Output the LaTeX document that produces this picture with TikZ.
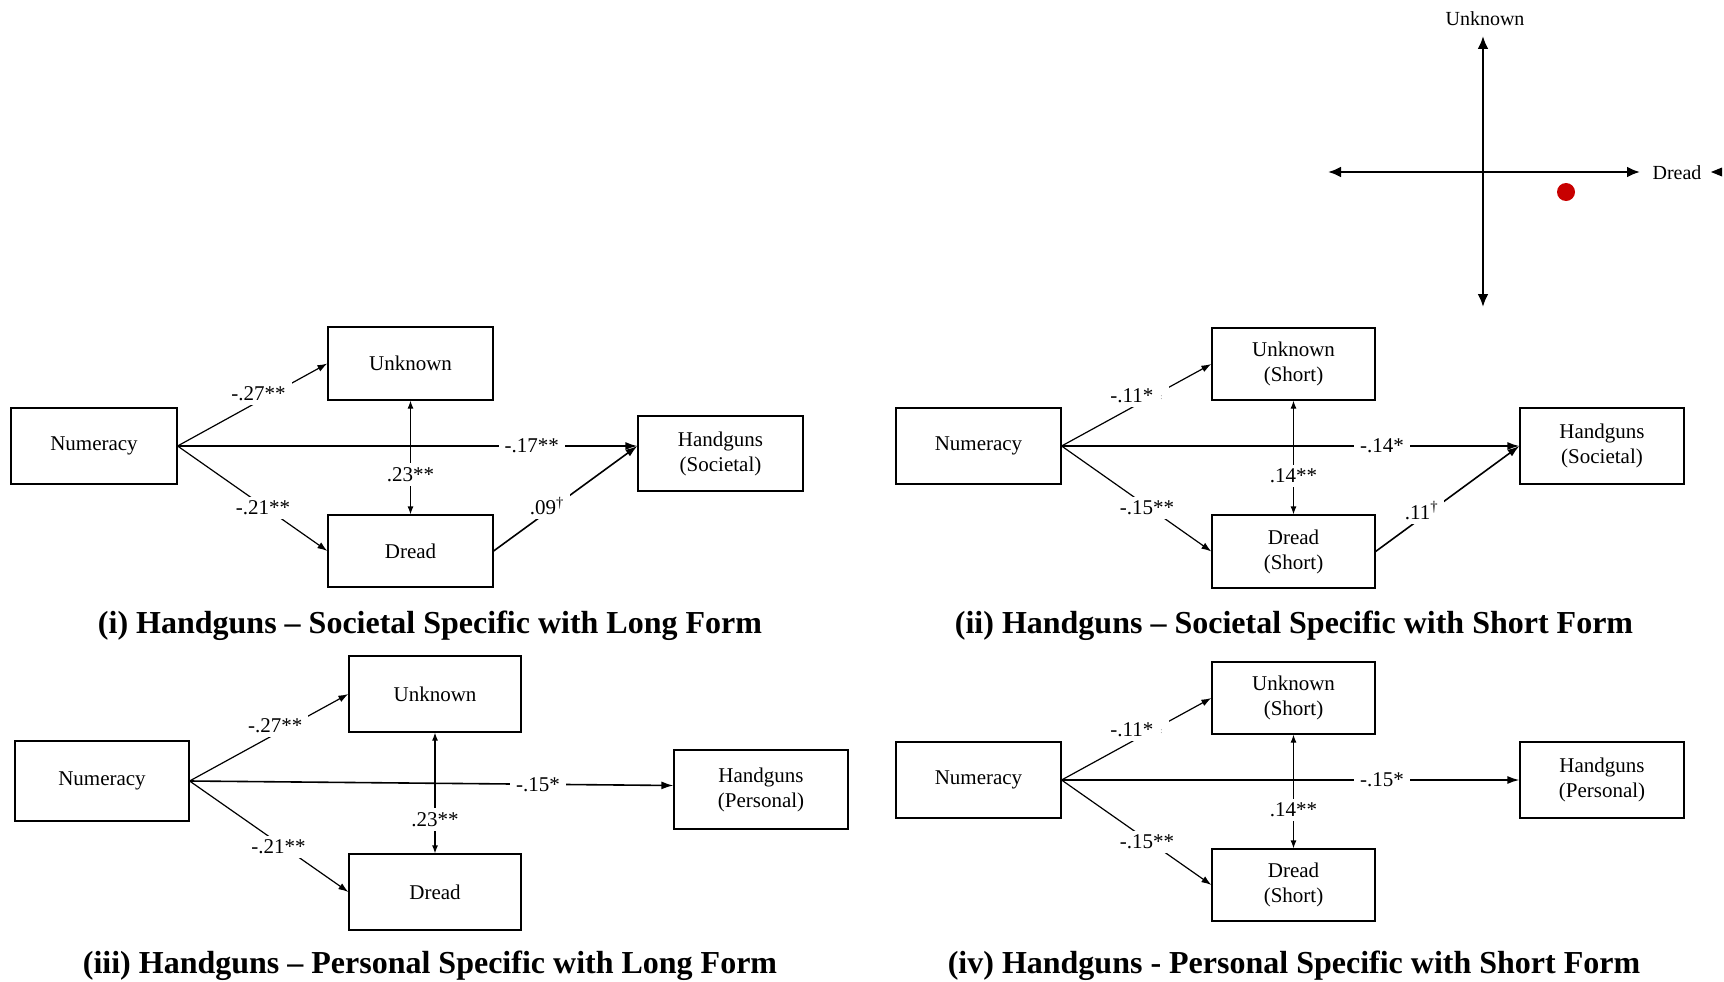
\documentclass[tikz,border=0pt]{standalone}
\usepackage{fontspec}
\setmainfont{Liberation Serif}
\usetikzlibrary{arrows.meta}
\definecolor{dotred}{RGB}{200,0,0}
\begin{document}
\begin{tikzpicture}[x=1pt,y=-1pt,
  box/.style={draw, line width=1.2pt, align=center, inner sep=0pt, font=\fontsize{21}{25}\selectfont},
  lab/.style={fill=white, inner xsep=6pt, inner ysep=4pt, font=\fontsize{21}{24}\selectfont},
  ttl/.style={font=\fontsize{32}{36}\selectfont\bfseries, inner sep=0pt},
  conn/.style={line width=1.2pt, -{Latex[length=10pt,width=7pt]}},
  mainarr/.style={line width=1.6pt, -{Latex[length=12pt,width=8pt]}},
  dbl/.style={line width=1.2pt, {Latex[length=8pt,width=6pt]}-{Latex[length=8pt,width=6pt]}},
  axis/.style={line width=2.4pt, {Latex[length=13pt,width=11pt]}-{Latex[length=13pt,width=11pt]}}
]
\useasboundingbox (0,0) rectangle (1724,982);

% ---------- axes (top right) ----------
\coordinate (ytop) at (1483,36);
\coordinate (ybot) at (1483,307);
\coordinate (xl) at (1328,172);
\coordinate (xr) at (1640,172);
\draw[axis] (ybot) -- (ytop);
\draw[axis] (xl) -- (xr);
\node[font=\fontsize{20}{24}\selectfont] (axu) at (1485,19) {Unknown};
\node[font=\fontsize{20}{24}\selectfont] (axd) at (1677,173) {Dread};
\fill[dotred] (1566,192) circle (9pt);
\fill (1711,172) -- (1722,167.5) -- (1722,176.5) -- cycle;

% ---------- panel (i) ----------
\node[box, minimum width=166pt, minimum height=76pt] (n1) at (94,446) {Numeracy};
\node[box, minimum width=165pt, minimum height=73pt] (u1) at (410.5,363.5) {Unknown};
\node[box, minimum width=165pt, minimum height=72pt] (d1) at (410.5,551) {Dread};
\node[box, minimum width=165pt, minimum height=75pt] (h1) at (720.5,453.5) {Handguns\\(Societal)};
\coordinate (h1a) at (h1.west |- n1.east);
\draw[mainarr] (n1.east) -- node[lab, pos=.77] {-.17**} (h1a);
\draw[conn] (n1.east) -- node[lab, pos=.54, yshift=8pt] {-.27**} (u1.west);
\draw[conn] (n1.east) -- node[lab, pos=.57, yshift=-2pt] {-.21**} (d1.west);
\draw[dbl] (u1.south) -- node[lab, pos=.65] {.23**} (d1.north);
\draw[mainarr] (d1.east) -- node[lab, pos=.37, yshift=6pt] {.09\textsuperscript{\textdagger}} (h1a);
\node[ttl] (t1) at (430,626) {(i) Handguns – Societal Specific with Long Form};

% ---------- panel (ii) ----------
\node[box, minimum width=165pt, minimum height=76pt] (n2) at (978.5,446) {Numeracy};
\node[box, minimum width=163pt, minimum height=72pt] (u2) at (1293.5,364) {Unknown\\(Short)};
\node[box, minimum width=163pt, minimum height=73pt] (d2) at (1293.5,551.5) {Dread\\(Short)};
\node[box, minimum width=164pt, minimum height=76pt] (h2) at (1602,446) {Handguns\\(Societal)};
\draw[mainarr] (n2.east) -- node[lab, pos=.70] {-.14*} (h2.west);
\draw[conn] (n2.east) -- node[lab, pos=.50, yshift=9pt] {-.11*\hspace{7pt}\raisebox{3pt}{\fontsize{8}{8}\selectfont\color{gray}:}} (u2.west);
\draw[conn] (n2.east) -- node[lab, pos=.57, yshift=-2pt] {-.15**} (d2.west);
\draw[dbl] (u2.south) -- node[lab, pos=.66] {.14**} (d2.north);
\draw[mainarr] (d2.east) -- node[lab, pos=.32, yshift=7pt] {.11\textsuperscript{\textdagger}} (h2.west);
\node[ttl] (t2) at (1294,626) {(ii) Handguns – Societal Specific with Short Form};

% ---------- panel (iii) ----------
\node[box, minimum width=174pt, minimum height=80pt] (n3) at (102,781) {Numeracy};
\node[box, minimum width=172pt, minimum height=76pt] (u3) at (435,694) {Unknown};
\node[box, minimum width=172pt, minimum height=76pt] (d3) at (435,892) {Dread};
\node[box, minimum width=174pt, minimum height=79pt] (h3) at (761,789.5) {Handguns\\(Personal)};
\coordinate (h3a) at ([yshift=4pt]h3.west);
\draw[mainarr] (n3.east) -- node[lab, pos=.72] {-.15*} (h3a);
\draw[conn] (n3.east) -- node[lab, pos=.54, yshift=8pt] {-.27**} (u3.west);
\draw[conn] (n3.east) -- node[lab, pos=.56, yshift=-4pt] {-.21**} (d3.west);
\draw[dbl] (u3.south) -- node[lab, pos=.72] {.23**} (d3.north);
\node[ttl] (t3) at (430,966) {(iii) Handguns – Personal Specific with Long Form};

% ---------- panel (iv) ----------
\node[box, minimum width=165pt, minimum height=76pt] (n4) at (978.5,780) {Numeracy};
\node[box, minimum width=163pt, minimum height=72pt] (u4) at (1293.5,698) {Unknown\\(Short)};
\node[box, minimum width=163pt, minimum height=72pt] (d4) at (1293.5,885) {Dread\\(Short)};
\node[box, minimum width=164pt, minimum height=76pt] (h4) at (1602,780) {Handguns\\(Personal)};
\draw[mainarr] (n4.east) -- node[lab, pos=.70] {-.15*} (h4.west);
\draw[conn] (n4.east) -- node[lab, pos=.50, yshift=9pt] {-.11*\hspace{7pt}\raisebox{3pt}{\fontsize{8}{8}\selectfont\color{gray}:}} (u4.west);
\draw[conn] (n4.east) -- node[lab, pos=.57, yshift=-2pt] {-.15**} (d4.west);
\draw[dbl] (u4.south) -- node[lab, pos=.66] {.14**} (d4.north);
\node[ttl] (t4) at (1294,966) {(iv) Handguns - Personal Specific with Short Form};
\end{tikzpicture}
\end{document}
